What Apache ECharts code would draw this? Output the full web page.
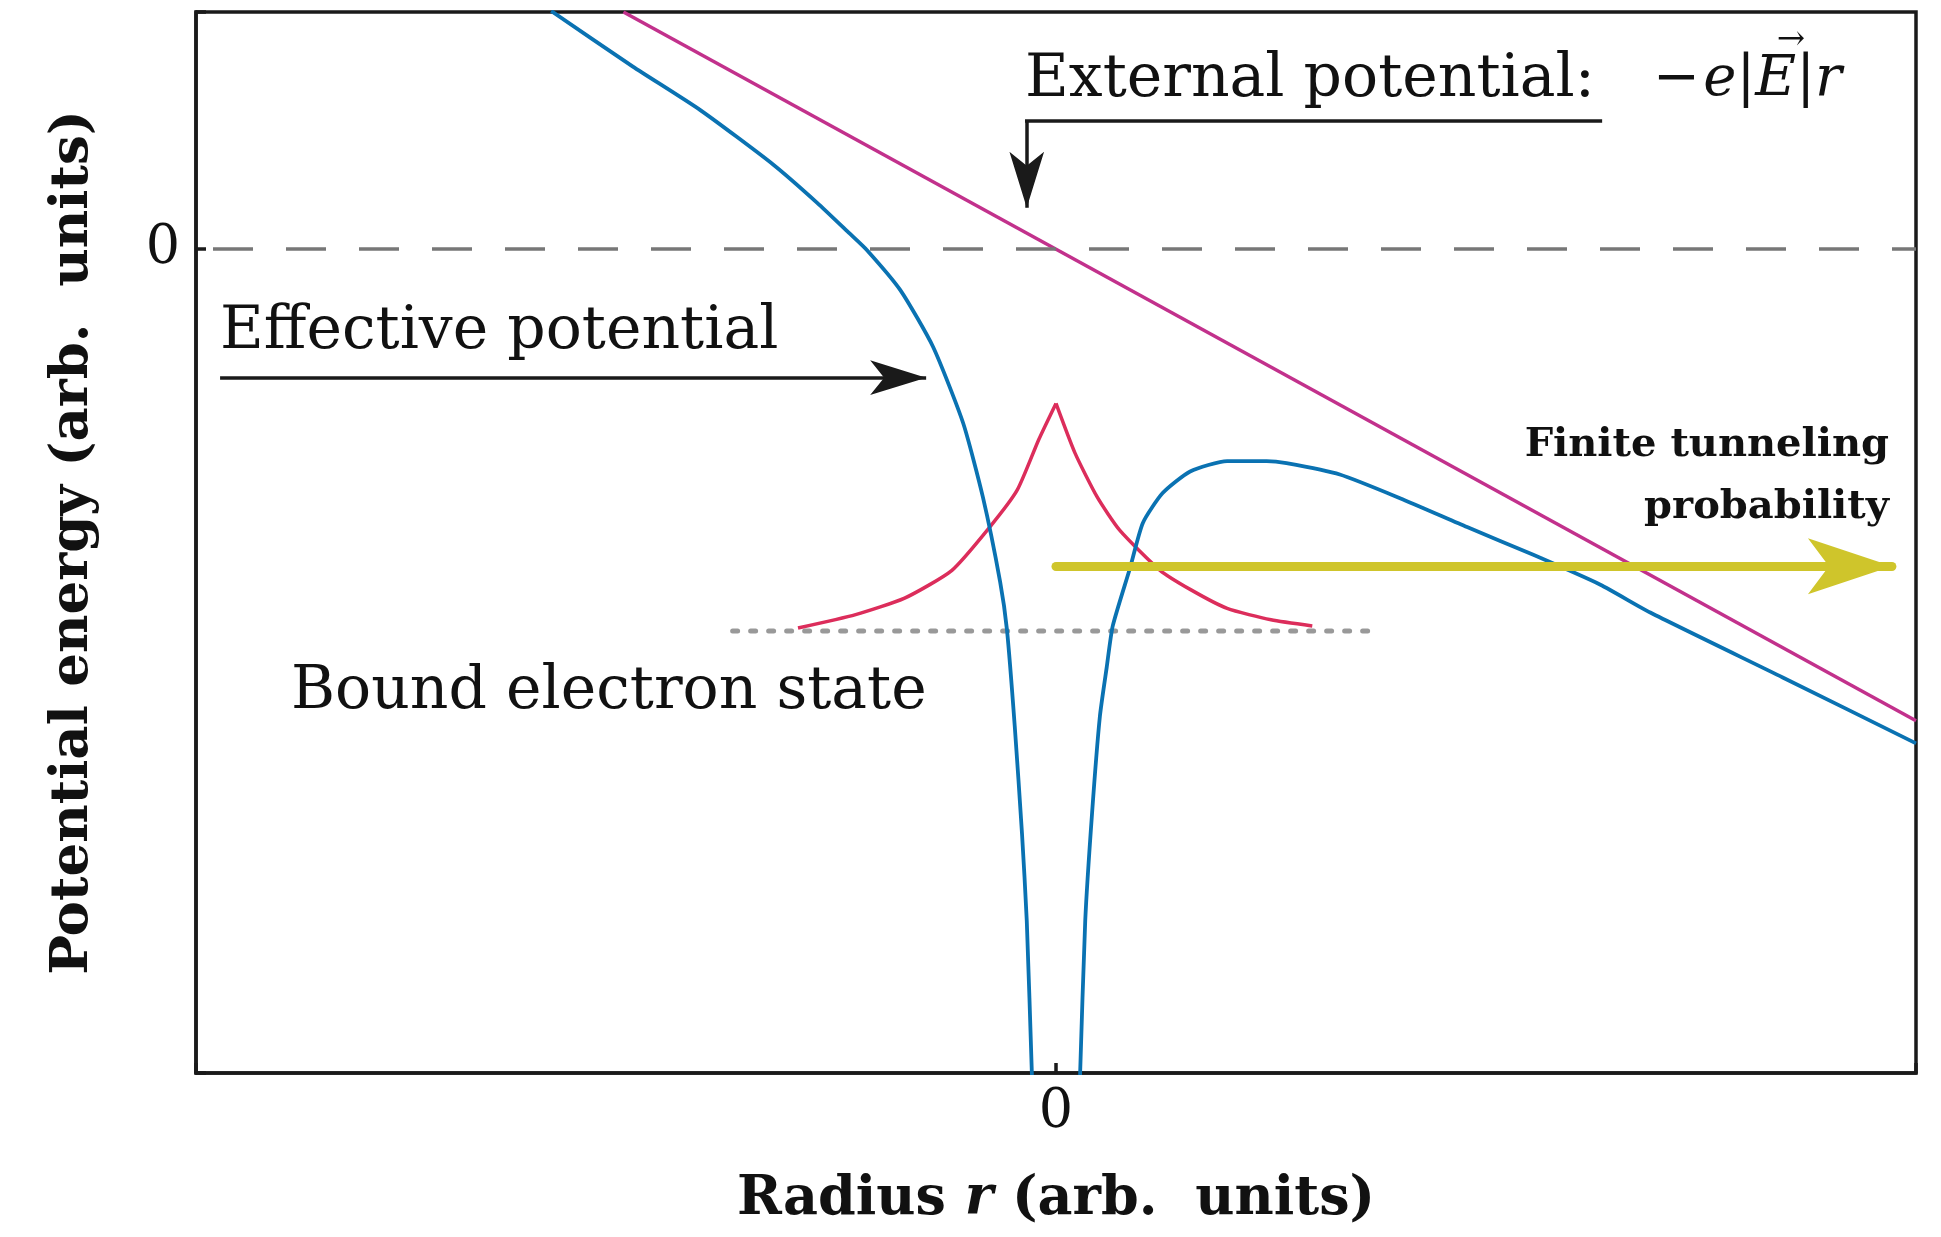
<!DOCTYPE html>
<html>
<head>
<meta charset="utf-8">
<title>Tunnel ionization</title>
<style>
  html, body { margin: 0; padding: 0; background: #fff; }
  #chart { width: 1941px; height: 1237px; }
</style>
<script src="https://cdn.jsdelivr.net/npm/echarts@6/dist/echarts.min.js"></script>
</head>
<body>
<div id="chart"></div>
<script>
// axis ranges (arb. units), only the 0 tick is labelled
var xRange = [-10, 10];
var yRange = [-8, 2.3];
var shownTicks = [0];

// effective potential, left and right of the nucleus (blue)
var effLeft = [[-5.87, 2.31], [-4.92, 1.77], [-4.14, 1.35], [-3.29, 0.82], [-2.78, 0.45],
  [-2.40, 0.15], [-2.20, -0.01], [-1.81, -0.40], [-1.43, -0.95], [-1.08, -1.69],
  [-0.85, -2.41], [-0.65, -3.23], [-0.57, -3.70], [-0.48, -4.63], [-0.395, -5.68],
  [-0.34, -6.52], [-0.28, -8.02], [-0.27, -8.3]];
var effRight = [[0.27, -8.3], [0.28, -8.02], [0.34, -6.52], [0.42, -5.47], [0.51, -4.54],
  [0.59, -4.06], [0.66, -3.66], [0.86, -3.10], [1.01, -2.66], [1.24, -2.37],
  [1.56, -2.16], [1.99, -2.06], [2.45, -2.06], [2.68, -2.08], [3.30, -2.19],
  [4.00, -2.42], [4.78, -2.70], [5.55, -2.97], [6.33, -3.26], [6.91, -3.53],
  [8.45, -4.16], [10.0, -4.80]];

// external potential -e|E|r (magenta)
var extPot = [[-5.03, 2.30], [10, -4.58]];

// bound state wavefunction (red), split at the cusp
var psiLeft = [[-3.00, -3.68], [-2.33, -3.55], [-1.76, -3.39], [-1.21, -3.12], [-0.77, -2.70],
  [-0.45, -2.34], [-0.20, -1.85], [0, -1.50]];
var psiRight = [[0, -1.50], [0.22, -1.98], [0.48, -2.41], [0.74, -2.73], [1.21, -3.12],
  [1.57, -3.31], [1.99, -3.49], [2.50, -3.60], [2.98, -3.66]];

// bound energy level (dotted)
var boundLevel = [[-3.76, -3.71], [3.77, -3.71]];

// annotation arrows (start, tip)
var tunnelArrow = [[0, -3.08], [9.72, -3.08]];
var effArrow = [[-9.72, -1.25], [-1.51, -1.25]];
var extArrowBar = [[6.33, 1.24], [-0.34, 1.24]];
var extArrowTip = [[-0.34, 1.24], [-0.34, 0.40]];

var FONT = '"DejaVu Serif", "Liberation Serif", serif';
var INK = '#111';
var FRAME = '#1a1a1a';

function curve(data, color, width, smooth) {
  return {
    type: 'line', data: data, showSymbol: false, symbol: 'none',
    smooth: smooth || false, silent: true,
    lineStyle: { color: color, width: width, join: 'round' }, z: 2
  };
}

var myChart = echarts.init(document.getElementById('chart'));

var axisCommon = {
  type: 'value',
  nameLocation: 'middle',
  nameTextStyle: {
    fontFamily: FONT, fontWeight: 'bold', fontSize: 53, color: INK,
    rich: { i: { fontFamily: FONT, fontWeight: 'bold', fontStyle: 'italic', fontSize: 53, color: INK } }
  },
  axisLine: { onZero: false, lineStyle: { color: FRAME, width: 3.5 } },
  axisTick: { inside: true, length: 10, lineStyle: { color: FRAME, width: 3.5 } },
  axisLabel: {
    fontFamily: FONT, fontSize: 54, color: INK,
    formatter: function (v) { return shownTicks.indexOf(v) >= 0 ? String(v) : ''; }
  },
  splitLine: { show: false }
};

var option = {
  animation: false,
  backgroundColor: '#fff',
  grid: { left: 196, right: 25, top: 12, bottom: 164, show: true, borderColor: FRAME, borderWidth: 3.5 },
  xAxis: Object.assign({}, axisCommon, {
    min: xRange[0], max: xRange[1], interval: 10,
    name: 'Radius {i|r} (arb.  units)', nameGap: 100,
    nameTextStyle: Object.assign({}, axisCommon.nameTextStyle, { fontSize: 54,
      rich: { i: { fontFamily: FONT, fontWeight: 'bold', fontStyle: 'italic', fontSize: 54, color: INK } } }),
    axisLabel: Object.assign({}, axisCommon.axisLabel, { margin: 13 })
  }),
  yAxis: Object.assign({}, axisCommon, {
    min: yRange[0], max: yRange[1], interval: 8,
    name: 'Potential energy (arb.  units)', nameGap: 96,
    axisLabel: Object.assign({}, axisCommon.axisLabel, { margin: 16 })
  }),
  series: [
    Object.assign(curve(extPot, '#c2318c', 3.5), {
      markLine: {
        silent: true, symbol: 'none', label: { show: false },
        lineStyle: { color: '#777', width: 3.5, type: [40, 33], dashOffset: 56 },
        data: [{ yAxis: 0 }]
      }
    }),
    {
      type: 'line', data: boundLevel, showSymbol: false, symbol: 'none', silent: true,
      lineStyle: { color: '#999', width: 5, type: [5, 13], cap: 'round' }, z: 1
    },
    curve(psiLeft, '#dc2d5b', 3.5, 0.2),
    curve(psiRight, '#dc2d5b', 3.5, 0.2),
    curve(effLeft, '#0a72b2', 3.8, 0.2),
    curve(effRight, '#0a72b2', 3.8, 0.2),
    {
      type: 'lines', coordinateSystem: 'cartesian2d', silent: true, z: 6,
      symbol: ['none', 'arrow'], symbolSize: [1, [42, 84]],
      lineStyle: { color: '#cfc52b', width: 9, opacity: 1, cap: 'round', curveness: 0 },
      data: [{ coords: tunnelArrow }]
    },
    {
      type: 'lines', coordinateSystem: 'cartesian2d', silent: true, z: 5,
      symbol: ['none', 'arrow'], symbolSize: [1, [26, 56]],
      lineStyle: { color: FRAME, width: 3.5, opacity: 1, curveness: 0 },
      data: [{ coords: effArrow }, { coords: extArrowTip }]
    },
    {
      type: 'lines', coordinateSystem: 'cartesian2d', silent: true, z: 5,
      symbol: 'none',
      lineStyle: { color: FRAME, width: 3.5, opacity: 1, cap: 'square', curveness: 0 },
      data: [{ coords: extArrowBar }]
    }
  ],
  graphic: [
    { type: 'text', x: 1025, y: 80, z: 10,
      style: { text: 'External potential:', font: '60px ' + FONT, fill: INK, align: 'left', verticalAlign: 'middle' } },
    { type: 'text', x: 1653, y: 80, z: 10,
      style: {
        text: '{n|\u2212} {i|e}{n||}{i|E}{n||}{i|r}', fill: INK, align: 'left', verticalAlign: 'middle',
        rich: { n: { font: '56px ' + FONT, fill: INK }, i: { font: 'italic 56px ' + FONT, fill: INK } }
      } },
    { type: 'text', x: 1791, y: 40, z: 10,
      style: { text: '\u2192', font: '34px ' + FONT, fill: INK, align: 'center', verticalAlign: 'middle' } },
    { type: 'text', x: 220, y: 332, z: 10,
      style: { text: 'Effective potential', font: '60px ' + FONT, fill: INK, align: 'left', verticalAlign: 'middle' } },
    { type: 'text', x: 291, y: 692, z: 10,
      style: { text: 'Bound electron state', font: '60px ' + FONT, fill: INK, align: 'left', verticalAlign: 'middle' } },
    { type: 'text', x: 1889, y: 446, z: 10,
      style: { text: 'Finite tunneling', font: 'bold 40px ' + FONT, fill: INK, align: 'right', verticalAlign: 'middle' } },
    { type: 'text', x: 1889, y: 508, z: 10,
      style: { text: 'probability', font: 'bold 40px ' + FONT, fill: INK, align: 'right', verticalAlign: 'middle' } }
  ]
};

myChart.setOption(option);
</script>
</body>
</html>
